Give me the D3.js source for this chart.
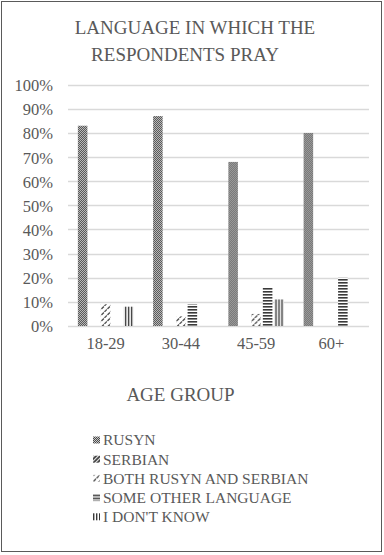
<!DOCTYPE html>
<html>
<head>
<meta charset="utf-8">
<script src="https://cdn.jsdelivr.net/npm/d3@7"></script>
</head>
<body style="margin:0">
<svg id="chart" width="384" height="555"></svg>
<script>
// Age groups on the x axis
const ageGroups = ["18-29", "30-44", "45-59", "60+"];
// Languages, in legend order
const languages = ["RUSYN", "SERBIAN", "BOTH RUSYN AND SERBIAN", "SOME OTHER LANGUAGE", "I DON'T KNOW"];
// Percent of respondents per language, one value per age group
const rusyn        = [83, 87, 68, 80];
const serbian      = [0, 0, 0, 0];
const bothLang     = [9, 4, 5, 0];
const otherLang    = [0, 9, 16, 20];
const dontKnow     = [8, 0, 11, 0];
const yTicks = [0, 10, 20, 30, 40, 50, 60, 70, 80, 90, 100];

const seriesValues = [rusyn, serbian, bothLang, otherLang, dontKnow];
const patternIds = ["p-rusyn", "p-serbian", "p-both", "p-other", "p-dk"];

const serifFamily = "Liberation Serif";
const FONT = `"${serifFamily}"`;
const svg = d3.select("#chart");
const textColor = "#595959";
const ink = "#3a3a3a";

// applies the serif face and a size to a text selection
function serif(sel, size) {
  sel.attr("font-family", serifFamily)
     .style("font-family", FONT)
     .style("font-size", size + "px");
}

// Fill patterns
const defs = svg.append("defs");
// checkerboard
const pr = defs.append("pattern").attr("id", "p-rusyn").attr("patternUnits", "userSpaceOnUse")
  .attr("width", 2).attr("height", 2);
pr.append("rect").attr("width", 2).attr("height", 2).attr("fill", "#c8c8c8");
pr.append("rect").attr("x", 0).attr("y", 0).attr("width", 1).attr("height", 1).attr("fill", "#4a4a4a");
pr.append("rect").attr("x", 1).attr("y", 1).attr("width", 1).attr("height", 1).attr("fill", "#4a4a4a");
// wide upward diagonal
const ps = defs.append("pattern").attr("id", "p-serbian").attr("patternUnits", "userSpaceOnUse")
  .attr("width", 4).attr("height", 4);
ps.append("rect").attr("width", 4).attr("height", 4).attr("fill", "#fff");
ps.append("path").attr("d", "M-1,5 L5,-1 M-1,1 L1,-1 M3,5 L5,3").attr("stroke", ink).attr("stroke-width", 1.8);
// dashed upward diagonal
const pb = defs.append("pattern").attr("id", "p-both").attr("patternUnits", "userSpaceOnUse")
  .attr("width", 6).attr("height", 6);
pb.append("rect").attr("width", 6).attr("height", 6).attr("fill", "#fff");
pb.append("path").attr("d", "M0.5,3 L3,0.5 M3.5,6 L6,3.5").attr("stroke", ink).attr("stroke-width", 1.1);
// horizontal lines
const po = defs.append("pattern").attr("id", "p-other").attr("patternUnits", "userSpaceOnUse")
  .attr("width", 3).attr("height", 3);
po.append("rect").attr("width", 3).attr("height", 3).attr("fill", "#fff");
po.append("rect").attr("width", 3).attr("height", 1.6).attr("fill", ink);
// vertical lines
const pd = defs.append("pattern").attr("id", "p-dk").attr("patternUnits", "userSpaceOnUse")
  .attr("width", 3).attr("height", 3);
pd.append("rect").attr("width", 3).attr("height", 3).attr("fill", "#fff");
pd.append("rect").attr("width", 1.4).attr("height", 3).attr("fill", ink);

// Outer frame
svg.append("rect").attr("x", 1.5).attr("y", 1.5).attr("width", 380).attr("height", 550)
  .attr("fill", "#fff").attr("stroke", "#5a5a5a").attr("stroke-width", 1);

// Title, one text per line
const titleLines = [["LANGUAGE IN WHICH THE", 195, 34], ["RESPONDENTS PRAY", 185, 61]];
svg.selectAll("text.title").data(titleLines).join("text")
  .attr("class", "title")
  .attr("x", d => d[1]).attr("y", d => d[2])
  .attr("text-anchor", "middle").attr("fill", textColor)
  .call(serif, 19)
  .text(d => d[0]);

// Scales
const plotLeft = 68, plotRight = 369, plotTop = 84.7, plotBottom = 326;
const x0 = d3.scaleBand().domain(ageGroups).range([plotLeft, plotRight])
  .paddingInner(0.236).paddingOuter(0.118);
const x1 = d3.scaleBand().domain(languages).range([0, x0.bandwidth()])
  .paddingInner(0.17).paddingOuter(0.085);
const y = d3.scaleLinear().domain([0, 100]).range([plotBottom, plotTop]);

// Gridlines
svg.append("g").selectAll("line").data(yTicks).join("line")
  .attr("x1", plotLeft).attr("x2", plotRight)
  .attr("y1", d => Math.round(y(d)) + 0.5).attr("y2", d => Math.round(y(d)) + 0.5)
  .attr("stroke", "#d9d9d9").attr("stroke-width", 1.3);

// Y axis labels
const yAxis = svg.append("g").attr("transform", `translate(${plotLeft - 15},0)`)
  .call(d3.axisLeft(y).tickValues(yTicks).tickFormat(d => d + "%").tickSize(0).tickPadding(0));
yAxis.attr("font-family", serifFamily);
yAxis.select(".domain").remove();
yAxis.selectAll("text").attr("fill", textColor).attr("dy", "0.36em").call(serif, 16.5);

// Bars
const groups = svg.append("g").selectAll("g").data(ageGroups).join("g")
  .attr("transform", d => `translate(${x0(d)},0)`);
groups.selectAll("rect")
  .data((g, gi) => languages.map((lang, li) => ({ lang, li, v: seriesValues[li][gi] })))
  .join("rect")
  .filter(d => d.v > 0)
  .attr("x", d => x1(d.lang))
  .attr("width", x1.bandwidth())
  .attr("y", d => y(d.v))
  .attr("height", d => y(0) - y(d.v))
  .attr("fill", d => `url(#${patternIds[d.li]})`);

// X axis labels
const xAxis = svg.append("g").attr("transform", `translate(0,${plotBottom + 11})`)
  .call(d3.axisBottom(x0).tickSize(0).tickPadding(0));
xAxis.attr("font-family", serifFamily);
xAxis.select(".domain").remove();
xAxis.selectAll("text").attr("fill", textColor).call(serif, 16.5);

// X axis title
svg.append("text").attr("x", 180.5).attr("y", 401).attr("text-anchor", "middle")
  .attr("fill", textColor).call(serif, 19).text("AGE GROUP");

// Legend
const legend = svg.append("g").selectAll("g").data(languages).join("g")
  .attr("transform", (d, i) => `translate(93,${440 + i * 19.2})`);
legend.append("rect").attr("x", 0).attr("y", -3.5).attr("width", 7).attr("height", 7)
  .attr("fill", (d, i) => `url(#${patternIds[i]})`);
legend.append("text").attr("x", 10).attr("y", 5.3).attr("fill", textColor)
  .call(serif, 15.5).text(d => d);
</script>
</body>
</html>
